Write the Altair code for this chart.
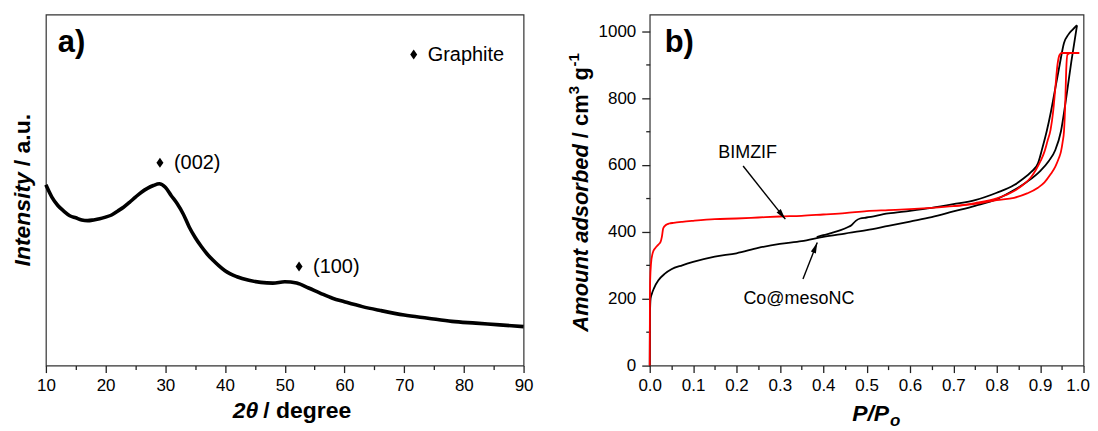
import altair as alt
import pandas as pd

FONT = "Liberation Sans"

# ---------------- panel a : XRD pattern ----------------
two_theta = [10, 11, 12, 13, 14, 15, 16, 17, 18, 19, 20, 21, 22, 23, 24, 25, 26, 27, 28, 29,
             30, 31, 32, 33, 34, 35, 36, 37, 38, 39, 40, 42, 44, 46, 48, 50, 52, 54, 56, 58,
             60, 63, 66, 70, 74, 78, 82, 86, 90]
intensity = [51.5, 48.0, 45.6, 44.0, 42.7, 42.1, 41.5, 41.3, 41.5, 41.8, 42.3, 42.9, 44.0, 45.1,
             46.5, 48.0, 49.4, 50.5, 51.3, 51.8, 50.8, 48.4, 46.1, 43.2, 39.5, 36.5, 34.0, 31.8,
             30.0, 28.4, 27.0, 25.3, 24.3, 23.7, 23.5, 23.9, 23.5, 22.1, 20.6, 19.2, 18.2, 16.8,
             15.7, 14.4, 13.5, 12.6, 12.1, 11.6, 11.1]
xa_major = [10, 20, 30, 40, 50, 60, 70, 80, 90]
xa_minor = [15, 25, 35, 45, 55, 65, 75, 85]
peak_x = [29.1, 52.4, 71.6]
peak_y = [57.8, 28.2, 88.6]
peak_label = ["(002)", "(100)", "Graphite"]

# ---------------- panel b : N2 isotherms ----------------
co_ads_p = [0.0, 0.0005, 0.002, 0.005, 0.01, 0.02, 0.035, 0.05, 0.075, 0.1, 0.15, 0.2, 0.25,
            0.3, 0.35, 0.4, 0.45, 0.5, 0.55, 0.6, 0.65, 0.7, 0.75, 0.8, 0.84, 0.87, 0.9, 0.92,
            0.935, 0.948, 0.96, 0.972, 0.985]
co_ads_v = [0, 150, 200, 215, 232, 255, 275, 288, 300, 310, 326, 336, 352, 364, 372, 385, 395,
            405, 418, 431, 444, 461, 478, 498, 525, 550, 582, 612, 645, 701, 800, 910, 1018]
co_des_p = [0.385, 0.40, 0.42, 0.44, 0.455, 0.465, 0.475, 0.485, 0.5, 0.55, 0.6, 0.65, 0.7,
            0.75, 0.8, 0.84, 0.86, 0.88, 0.895, 0.905, 0.915, 0.925, 0.935, 0.945, 0.955,
            0.965, 0.975, 0.985]
co_des_v = [384, 390, 397, 405, 413, 420, 433, 440, 443, 455, 463, 472, 483, 495, 517, 540, 558,
            580, 605, 650, 700, 760, 830, 900, 965, 990, 1005, 1018]
bim_ads_p = [0.0, 0.0005, 0.001, 0.003, 0.0065, 0.0085, 0.013, 0.02, 0.025, 0.028, 0.031, 0.035,
             0.039, 0.045, 0.055, 0.075, 0.1, 0.15, 0.2, 0.25, 0.3, 0.35, 0.4, 0.45, 0.5, 0.55,
             0.6, 0.65, 0.7, 0.75, 0.8, 0.84, 0.87, 0.895, 0.91, 0.924, 0.935, 0.943, 0.948,
             0.952, 0.955, 0.958, 0.96, 0.963, 0.97, 0.98, 0.99]
bim_ads_v = [0, 200, 255, 305, 335, 343, 352, 362, 370, 385, 410, 418, 422, 425, 427, 430, 433,
             438, 440, 443, 446, 448, 452, 456, 462, 465, 468, 472, 477, 484, 495, 502, 515, 532,
             548, 572, 595, 620, 640, 670, 701, 790, 880, 930, 935, 935, 935]
bim_des_p = [0.7, 0.75, 0.8, 0.84, 0.86, 0.878, 0.89, 0.901, 0.91, 0.917, 0.924, 0.93, 0.935,
             0.94, 0.945, 0.95, 0.97, 0.99]
bim_des_v = [477, 486, 500, 522, 540, 562, 585, 612, 640, 672, 705, 760, 830, 900, 930, 935,
             935, 935]
xb_major = [0.0, 0.1, 0.2, 0.3, 0.4, 0.5, 0.6, 0.7, 0.8, 0.9]
xb_last = [1.0]
xb_minor = [0.05, 0.15, 0.25, 0.35, 0.45, 0.55, 0.65, 0.75, 0.85, 0.95]
yb_major = [0, 200, 400, 600, 800, 1000]
yb_minor = [100, 300, 500, 700, 900]
sample_label = ["BIMZIF", "Co@mesoNC"]
sample_label_p = [0.158, 0.216]
sample_label_v = [620, 185]
arrow_p0 = [0.2153, 0.3533]
arrow_v0 = [597, 259]
arrow_p1 = [0.3126, 0.3862]
arrow_v1 = [438, 368]

DIAMOND = "M0,-1L0.7,0L0,1L-0.7,0Z"
ARROW = "M0,0L0.4,1.6L-0.4,1.6Z"
W_A, W_B, H = 479, 435, 352


def axis(values, tick, labels=True, fmt=None, orient="bottom", pad=5, offset=0):
    kw = dict(values=values, tickSize=tick, tickColor="#222", tickWidth=1.3, domain=False,
              grid=False, title=None, orient=orient, labels=labels, ticks=True)
    if labels:
        kw.update(labelFont=FONT, labelFontSize=17, labelColor="black", labelPadding=pad,
                  labelFlush=False, labelOverlap=False)
        if fmt:
            kw["format"] = fmt
        if offset:
            kw["labelOffset"] = offset
    return alt.Axis(**kw)


def label(text, x, y, size, italic=False, bold=True, angle=0, align="left"):
    return alt.Chart(pd.DataFrame({"t": [text]})).mark_text(
        font=FONT, fontSize=size, fontWeight="bold" if bold else "normal",
        fontStyle="italic" if italic else "normal", angle=angle, align=align,
        baseline="alphabetic", color="black"
    ).encode(x=alt.value(x), y=alt.value(y), text="t:N")


# ---------- panel a ----------
df_a = pd.DataFrame({"t": two_theta, "i": intensity})
xs_a = alt.Scale(domain=[10, 90], nice=False, zero=False)
ys_a = alt.Scale(domain=[0, 100], nice=False, zero=False)

ticks_a = alt.Chart(df_a).mark_line(opacity=0).encode(
    x=alt.X("t:Q", scale=xs_a, axis=axis(xa_minor, 4, labels=False)),
    y=alt.Y("i:Q", scale=ys_a, axis=None))
curve_a = alt.Chart(df_a).mark_line(color="black", strokeWidth=3.6, interpolate="monotone").encode(
    x=alt.X("t:Q", scale=xs_a, axis=axis(xa_major, 7, fmt="d")),
    y=alt.Y("i:Q", scale=ys_a, axis=None))
df_peaks = pd.DataFrame({"t": peak_x, "i": peak_y, "lab": peak_label})
diam = alt.Chart(df_peaks).mark_point(shape=DIAMOND, filled=True, size=100, color="black",
                                      opacity=1).encode(
    x=alt.X("t:Q", scale=xs_a, axis=None), y=alt.Y("i:Q", scale=ys_a, axis=None))
peak_txt = alt.Chart(df_peaks).mark_text(align="left", baseline="middle", dx=14, font=FONT,
                                         fontSize=20, color="black").encode(
    x=alt.X("t:Q", scale=xs_a, axis=None), y=alt.Y("i:Q", scale=ys_a, axis=None),
    text="lab:N")

panel_a = alt.layer(
    ticks_a, curve_a, diam, peak_txt,
    label("a)", 12, 38, 31),
    label("Intensity", -16, 158, 23, italic=True, angle=270, align="right"),
    label("/ a.u.", -16, 152, 23, angle=270, align="left"),
    label("2θ", 213, 405, 23, italic=True, align="right"),
    label("/ degree", 218, 405, 23),
).resolve_axis(x="independent", y="independent").properties(width=W_A, height=H)

# ---------- panel b ----------
rows = []
for name, ps, vs, col in [("co_ads", co_ads_p, co_ads_v, "black"),
                          ("co_des", co_des_p, co_des_v, "black"),
                          ("bim_ads", bim_ads_p, bim_ads_v, "red"),
                          ("bim_des", bim_des_p, bim_des_v, "red")]:
    for p, v in zip(ps, vs):
        rows.append({"p": p, "v": v, "branch": name, "col": col})
df_b = pd.DataFrame(rows)
df_black = df_b[df_b.col == "black"]
df_red = df_b[df_b.col == "red"]
xs_b = alt.Scale(domain=[0, 1], nice=False, zero=False)
ys_b = alt.Scale(domain=[0, 1050], nice=False, zero=False)

ticks_b = alt.Chart(df_black).mark_line(opacity=0).encode(
    x=alt.X("p:Q", scale=xs_b, axis=axis(xb_minor, 4, labels=False)),
    y=alt.Y("v:Q", scale=ys_b, axis=axis(yb_minor, 4, labels=False, orient="left")),
    detail="branch:N")
last_b = alt.Chart(df_black).mark_line(opacity=0).encode(
    x=alt.X("p:Q", scale=xs_b, axis=axis(xb_last, 7, fmt=".1f", offset=-6)),
    y=alt.Y("v:Q", scale=ys_b, axis=None),
    detail="branch:N")
black = alt.Chart(df_black).mark_line(color="black", strokeWidth=1.8, interpolate="monotone").encode(
    x=alt.X("p:Q", scale=xs_b, axis=axis(xb_major, 7, fmt=".1f")),
    y=alt.Y("v:Q", scale=ys_b, axis=axis(yb_major, 8, fmt="d", orient="left", pad=6)),
    detail="branch:N", order="p:Q")
red = alt.Chart(df_red).mark_line(color="#ff0000", strokeWidth=1.8, interpolate="monotone").encode(
    x=alt.X("p:Q", scale=xs_b, axis=None), y=alt.Y("v:Q", scale=ys_b, axis=None),
    detail="branch:N", order="p:Q")

df_arrow = pd.DataFrame({"p0": arrow_p0, "v0": arrow_v0, "p1": arrow_p1, "v1": arrow_v1})
shafts = alt.Chart(df_arrow).mark_rule(color="black", strokeWidth=1.4).encode(
    x=alt.X("p0:Q", scale=xs_b, axis=None), y=alt.Y("v0:Q", scale=ys_b, axis=None),
    x2="p1:Q", y2="v1:Q")
head1 = alt.Chart(df_arrow.iloc[[0]]).mark_point(shape=ARROW, filled=True, size=180, angle=141.6,
                                                 color="black", opacity=1).encode(
    x=alt.X("p1:Q", scale=xs_b, axis=None), y=alt.Y("v1:Q", scale=ys_b, axis=None))
head2 = alt.Chart(df_arrow.iloc[[1]]).mark_point(shape=ARROW, filled=True, size=180, angle=21.3,
                                                 color="black", opacity=1).encode(
    x=alt.X("p1:Q", scale=xs_b, axis=None), y=alt.Y("v1:Q", scale=ys_b, axis=None))
df_lab = pd.DataFrame({"p": sample_label_p, "v": sample_label_v, "lab": sample_label})
lab_txt = alt.Chart(df_lab).mark_text(align="left", baseline="alphabetic", font=FONT,
                                      fontSize=18, color="black").encode(
    x=alt.X("p:Q", scale=xs_b, axis=None), y=alt.Y("v:Q", scale=ys_b, axis=None), text="lab:N")

panel_b = alt.layer(
    ticks_b, last_b, black, red, shafts, head1, head2, lab_txt,
    label("b)", 15, 38, 31),
    label("Amount adsorbed", -62, 318, 22, italic=True, angle=270, align="left"),
    label("/ cm", -62, 124, 22, angle=270, align="left"),
    label("3", -71, 80, 15, angle=270, align="left"),
    label("g", -62, 66, 22, angle=270, align="left"),
    label("-1", -71, 52, 15, angle=270, align="left"),
    label("P/P", 203, 408, 23, italic=True),
    label("o", 241, 413, 17, italic=True),
).resolve_axis(x="independent", y="independent").properties(width=W_B, height=H)

chart = alt.hconcat(panel_a, panel_b, spacing=31.5).properties(
    padding={"left": 3, "top": 5, "right": 0, "bottom": 0}
).configure_view(stroke="#333", strokeWidth=1.2)

chart.save("out.html", embed_options={"renderer": "svg", "actions": False})
